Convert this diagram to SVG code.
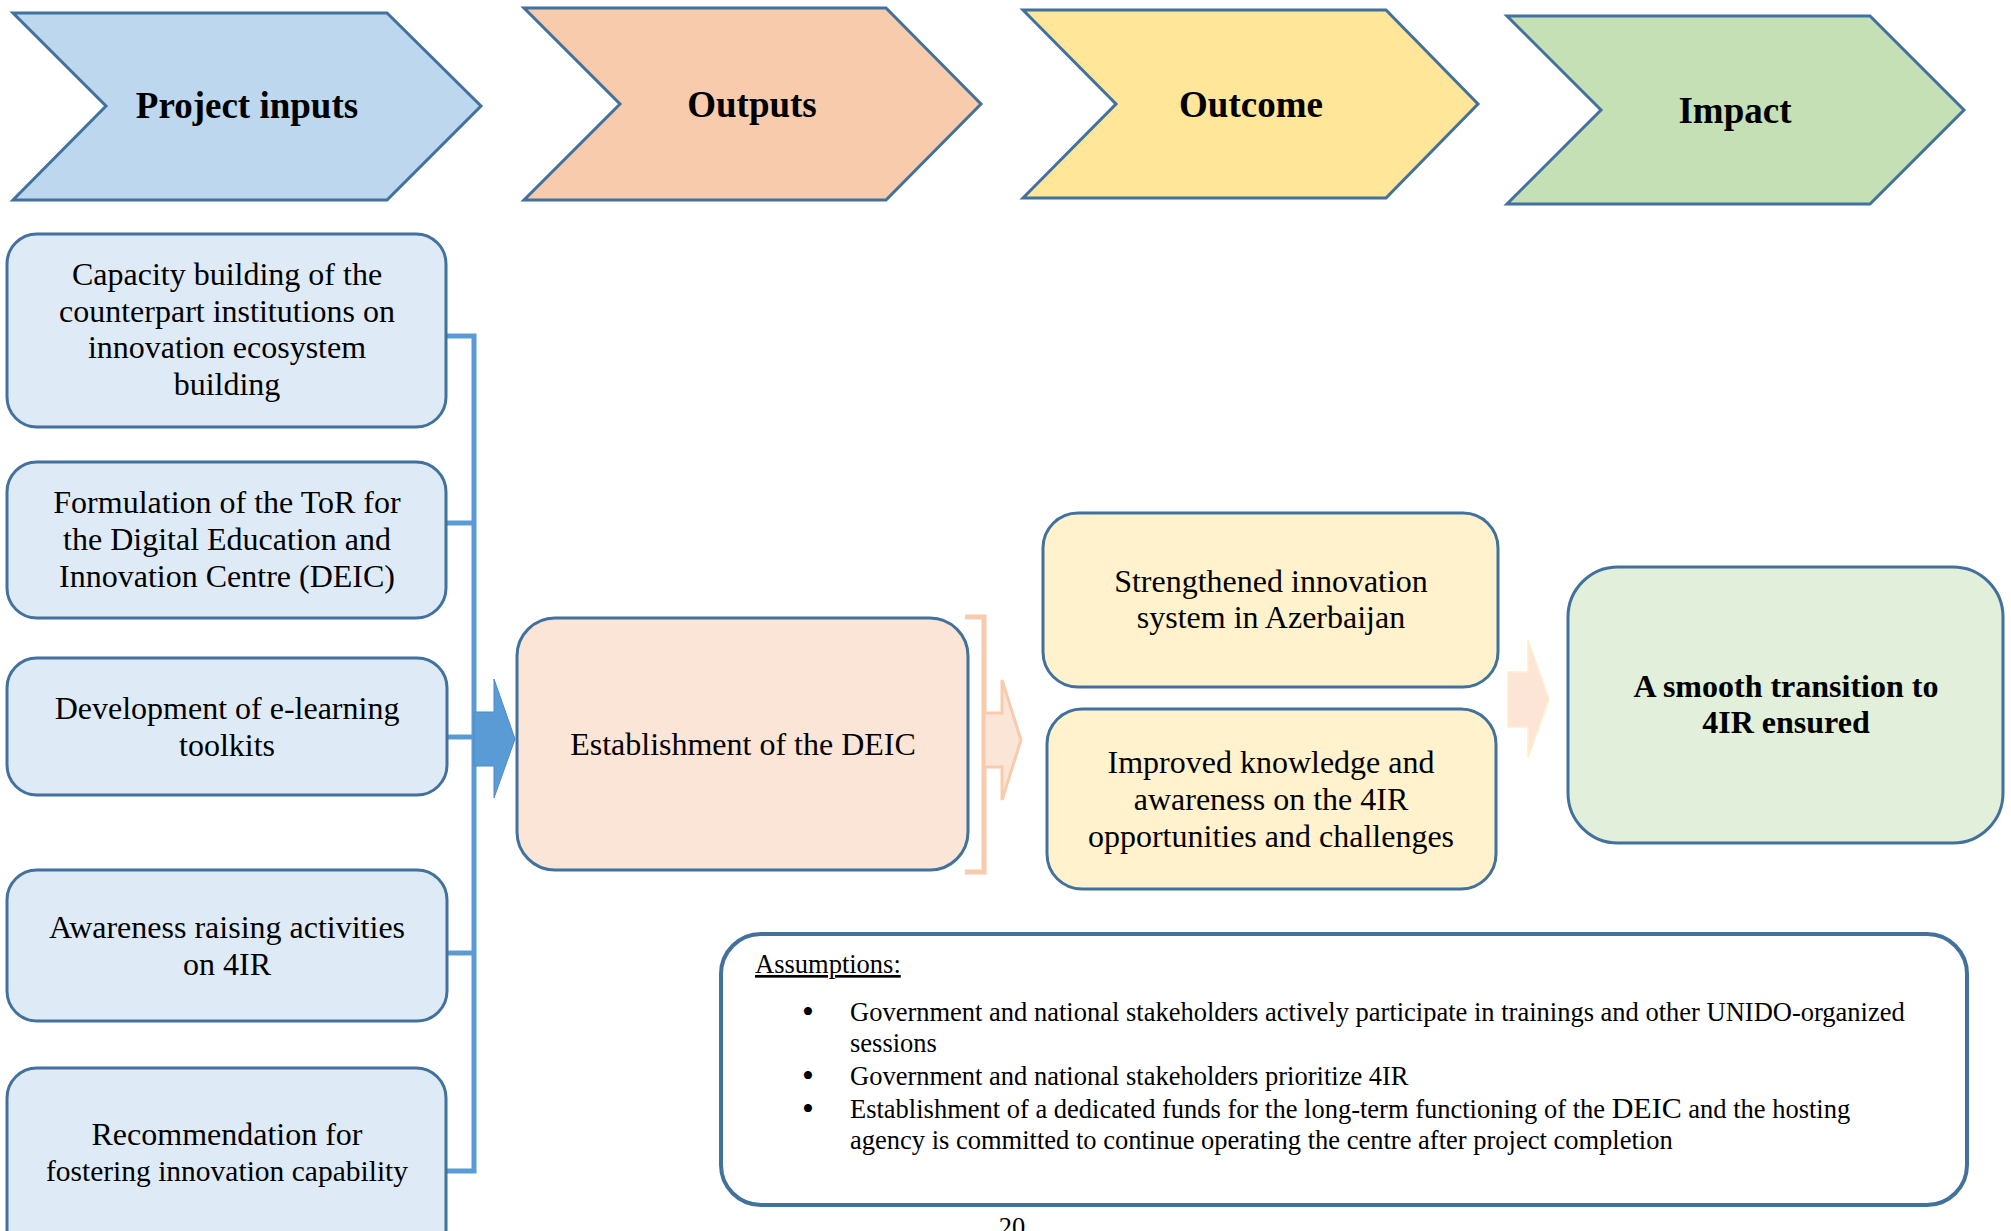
<svg xmlns="http://www.w3.org/2000/svg" width="2011" height="1231" viewBox="0 0 2011 1231">
<style>
.chev{stroke:#41719C;stroke-width:3;stroke-linejoin:miter}
.box{stroke:#41719C;stroke-width:3}
.title{font-family:"Liberation Serif","Times New Roman",serif;font-weight:bold;font-size:37px;fill:#000;text-anchor:middle}
.t{font-family:"Liberation Serif","Times New Roman",serif;font-size:32px;fill:#000;text-anchor:middle}
.tb{font-family:"Liberation Serif","Times New Roman",serif;font-size:32px;font-weight:bold;fill:#000;text-anchor:middle}
.a{font-family:"Liberation Serif","Times New Roman",serif;font-size:26.5px;fill:#000}
.bul{font-family:"Liberation Serif","Times New Roman",serif;font-size:34px;fill:#000;text-anchor:middle}
.in{fill:#DEEBF7}
</style>
<rect width="2011" height="1231" fill="#FFFFFF"/>
<g id="chevron-inputs">
<polygon class="chev" fill="#BDD7EE" points="13,13 387,13 481,106 387,200 13,200 106,106"/>
<text class="title" x="247" y="118">Project inputs</text>
</g>
<g id="chevron-outputs">
<polygon class="chev" fill="#F8CBAD" points="524,8 886,8 981,104 886,200 524,200 620,104"/>
<text class="title" x="752" y="117">Outputs</text>
</g>
<g id="chevron-outcome">
<polygon class="chev" fill="#FFE699" points="1023,10 1386,10 1478,104 1386,198 1023,198 1116,104"/>
<text class="title" x="1251" y="117">Outcome</text>
</g>
<g id="chevron-impact">
<polygon class="chev" fill="#C5E0B4" points="1507,16 1870,16 1964,110 1870,204 1507,204 1601,110"/>
<text class="title" x="1735" y="123">Impact</text>
</g>
<g id="connectors">
<polyline points="446,336 474,336 474,1171 446,1171" fill="none" stroke="#5B9BD5" stroke-width="5"/>
<line x1="446" y1="523" x2="474" y2="523" stroke="#5B9BD5" stroke-width="5"/>
<line x1="446" y1="737" x2="474" y2="737" stroke="#5B9BD5" stroke-width="5"/>
<line x1="446" y1="953" x2="474" y2="953" stroke="#5B9BD5" stroke-width="5"/>
<polygon points="474,712 494,712 494,679 515,739 494,798 494,766 474,766" fill="#5B9BD5" stroke="#4A89C8" stroke-width="1"/>
<polyline points="965,617 984,617 984,872 965,872" fill="none" stroke="#F8CBAD" stroke-width="5"/>
<polygon points="984,713 1002,713 1002,680 1021,740 1002,800 1002,767 984,767" fill="#FBE5D6" stroke="#F8CBAD" stroke-width="3"/>
<polygon points="1508,672 1528,672 1528,640 1549,699 1528,758 1528,727 1508,727" fill="#FCE4D6" stroke="#FFF0C8" stroke-width="1.5"/>
</g>
<g id="input-1">
<rect class="box in" x="7" y="234" width="439" height="193" rx="30"/>
<text class="t" x="227" y="285">Capacity building of the</text>
<text class="t" x="227" y="322">counterpart institutions on</text>
<text class="t" x="227" y="358">innovation ecosystem</text>
<text class="t" x="227" y="395">building</text>
</g>
<g id="input-2">
<rect class="box in" x="7" y="462" width="439" height="156" rx="30"/>
<text class="t" x="227" y="513">Formulation of the ToR for</text>
<text class="t" x="227" y="550">the Digital Education and</text>
<text class="t" x="227" y="587">Innovation Centre (DEIC)</text>
</g>
<g id="input-3">
<rect class="box in" x="7" y="658" width="440" height="137" rx="30"/>
<text class="t" x="227" y="719">Development of e-learning</text>
<text class="t" x="227" y="756">toolkits</text>
</g>
<g id="input-4">
<rect class="box in" x="7" y="870" width="440" height="151" rx="30"/>
<text class="t" x="227" y="938">Awareness raising activities</text>
<text class="t" x="227" y="975">on 4IR</text>
</g>
<g id="input-5">
<rect class="box in" x="7" y="1068" width="439" height="200" rx="30"/>
<text class="t" x="227" y="1145">Recommendation for</text>
<text class="t" x="227" y="1181" style="font-size:29.5px">fostering innovation capability</text>
</g>
<g id="output-deic">
<rect class="box" fill="#FBE5D6" x="517" y="618" width="451" height="252" rx="38"/>
<text class="t" x="743" y="755">Establishment of the DEIC</text>
</g>
<g id="outcome-1">
<rect class="box" fill="#FFF2CC" x="1043" y="513" width="455" height="174" rx="35"/>
<text class="t" x="1271" y="592">Strengthened innovation</text>
<text class="t" x="1271" y="628">system in Azerbaijan</text>
</g>
<g id="outcome-2">
<rect class="box" fill="#FFF2CC" x="1047" y="709" width="449" height="180" rx="35"/>
<text class="t" x="1271" y="773">Improved knowledge and</text>
<text class="t" x="1271" y="810">awareness on the 4IR</text>
<text class="t" x="1271" y="847">opportunities and challenges</text>
</g>
<g id="impact">
<rect class="box" fill="#E2EFDA" x="1568" y="567" width="435" height="276" rx="50"/>
<text class="tb" x="1786" y="697">A smooth transition to</text>
<text class="tb" x="1786" y="733">4IR ensured</text>
</g>
<g id="assumptions">
<rect fill="#FFFFFF" stroke="#41719C" stroke-width="4" x="721" y="934" width="1246" height="271" rx="40"/>
<text class="a" x="755" y="973" text-decoration="underline">Assumptions:</text>
<text class="bul" x="808" y="1023">•</text>
<text class="a" x="850" y="1021">Government and national stakeholders actively participate in trainings and other UNIDO-organized</text>
<text class="a" x="850" y="1052">sessions</text>
<text class="bul" x="808" y="1087">•</text>
<text class="a" x="850" y="1085">Government and national stakeholders prioritize 4IR</text>
<text class="bul" x="808" y="1120">•</text>
<text class="a" x="850" y="1118">Establishment of a dedicated funds for the long-term functioning of the <tspan style="font-size:30px">DEIC</tspan> and the hosting</text>
<text class="a" x="850" y="1149">agency is committed to continue operating the centre after project completion</text>
</g>
<text class="a" x="1012" y="1236" text-anchor="middle">20</text>
</svg>
